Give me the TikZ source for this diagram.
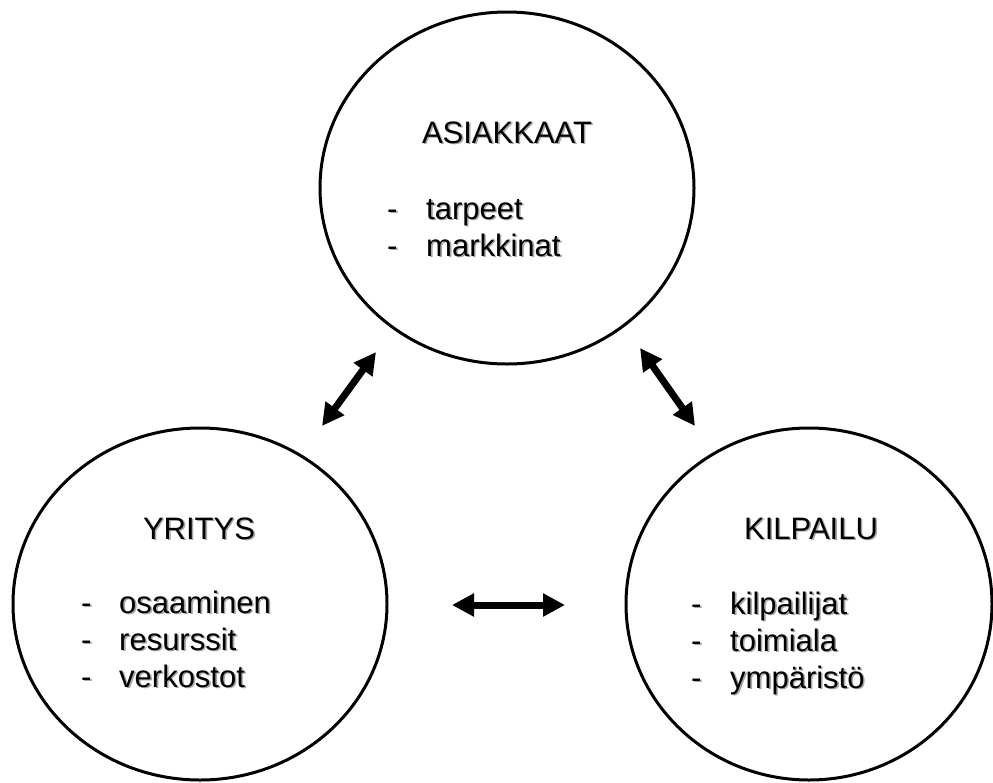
\documentclass[tikz,border=0pt]{standalone}
\usepackage{fontspec}
\setmainfont{Liberation Sans}
\usetikzlibrary{shapes.geometric,arrows.meta}
\newcommand\varjo[1]{\rlap{\kern1.6pt\raisebox{-1.6pt}{\textcolor{black!35}{#1}}}#1}

\begin{document}
\begin{tikzpicture}[x=1pt,y=-1pt,
    piiri/.style={draw,ellipse,line width=3pt,minimum width=374pt,minimum height=352pt,inner sep=0pt},
    otsikko/.style={anchor=base,inner sep=0pt,font=\fontsize{31}{36}\selectfont},
    kohta/.style={anchor=base west,inner sep=0pt,font=\fontsize{31}{36}\selectfont},
    nuoli/.style={line width=7pt,{Triangle[length=22pt,width=22pt]}-{Triangle[length=22pt,width=22pt]}}]
    \useasboundingbox (0,0) rectangle (993,782);
    \node[piiri] (asiakkaat) at (507,188) {};
    \node[piiri] (yritys) at (200,604) {};
    \node[piiri,minimum width=366pt] (kilpailu) at (809,604) {};
    \node[otsikko] (h1) at (507,143) {\varjo{ASIAKKAAT}};
    \node[otsikko] (h2) at (199,539) {\varjo{YRITYS}};
    \node[otsikko] (h3) at (811,539) {\varjo{KILPAILU}};
    \foreach \t [count=\i] in {tarpeet,markkinat}{
        \node[kohta] (av\i) at (387,182+37*\i) {\varjo{-}};
        \node[kohta] (a\i) at (426,182+37*\i) {\varjo{\t}};
    }
    \foreach \t [count=\i] in {osaaminen,resurssit,verkostot}{
        \node[kohta] (yv\i) at (81,576+37*\i) {\varjo{-}};
        \node[kohta] (y\i) at (119,576+37*\i) {\varjo{\t}};
    }
    \foreach \t [count=\i] in {kilpailijat,toimiala,ympäristö}{
        \node[kohta] (kv\i) at (691,577+37*\i) {\varjo{-}};
        \node[kohta] (k\i) at (730,577+37*\i) {\varjo{\t}};
    }
    \coordinate (ay) at (376,352);
    \coordinate (ya) at (322,426);
    \coordinate (ak) at (640,348);
    \coordinate (ka) at (695,426);
    \coordinate (yk) at (452,605);
    \coordinate (ky) at (565,605);
    \draw[nuoli] (ay)--(ya);
    \draw[nuoli] (ak)--(ka);
    \draw[nuoli] (yk)--(ky);
\end{tikzpicture}
\end{document}
